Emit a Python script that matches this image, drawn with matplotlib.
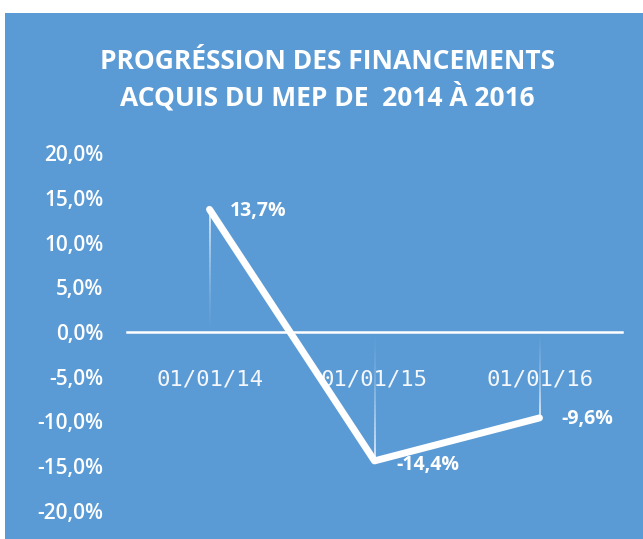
import matplotlib
matplotlib.use("Agg")
import matplotlib.pyplot as plt
import numpy as np
from matplotlib.patches import Rectangle
from matplotlib.ticker import FuncFormatter

dates = ["01/01/14", "01/01/15", "01/01/16"]
growth = [13.7, -14.4, -9.6]
point_labels = ["13,7%", "-14,4%", "-9,6%"]
yticks = [-20, -15, -10, -5, 0, 5, 10, 15, 20]

BLUE = "#5B9BD5"
W = 643 / 100
H = 539 / 100

fig = plt.figure(figsize=(W, H), dpi=100, facecolor="white")
fig.patches.append(Rectangle((5 / 643, 0), 1, 1 - 13 / 539, transform=fig.transFigure,
                             facecolor=BLUE, edgecolor="none", zorder=-10))

ax = fig.add_axes([127 / 643, (539 - 511) / 539, (622 - 127) / 643, (511 - 153) / 539])
ax.set_facecolor("none")

x = np.arange(len(dates))
ax.set_xlim(-0.5, len(dates) - 0.5)
ax.set_ylim(-20, 20)

# drop lines, fading towards the far end
for xi, yi in zip(x, growth):
    n = 30
    ys = np.linspace(yi, 0, n + 1)
    for k in range(n):
        a = 0.9 * (1 - k / n) ** 1.5
        ax.plot([xi, xi], [ys[k], ys[k + 1]], color="white", lw=1.2, alpha=a,
                solid_capstyle="butt", zorder=2)

ax.plot(x, growth, color="white", lw=5, solid_capstyle="round",
        solid_joinstyle="round", zorder=4)

offsets = [(15, -1), (16, -3), (16, -1)]
for xi, yi, lab, off in zip(x, growth, point_labels, offsets):
    ax.annotate(lab, (xi, yi), xytext=off, textcoords="offset points",
                color="white", fontsize=14, fontweight="bold", family="Open Sans",
                ha="left", va="center", zorder=5)

for s in ["top", "right", "left"]:
    ax.spines[s].set_visible(False)
ax.spines["bottom"].set_position(("data", 0))
ax.spines["bottom"].set_color("white")
ax.spines["bottom"].set_linewidth(1.8)

ax.set_xticks(x)
ax.set_xticklabels(dates, family="DejaVu Sans Mono", fontsize=16, color="#f4f7fb")
ax.tick_params(axis="x", length=0, pad=27)
ax.set_yticks(yticks)
ax.yaxis.set_major_formatter(FuncFormatter(lambda v, p: f"{v:.1f}%".replace(".", ",")))
ax.tick_params(axis="y", length=0, pad=17, labelcolor="white", labelsize=15)
for t in ax.get_yticklabels():
    t.set_family("Open Sans")
    t.set_fontweight("semibold")

fig.text(327 / 643, 1 - 80 / 539, "PROGRÉSSION DES FINANCEMENTS\nACQUIS DU MEP DE  2014 À 2016",
         ha="center", va="center", color="white", fontsize=19, fontweight="bold",
         family="Open Sans", linespacing=1.3)

fig.savefig("out.png", dpi=100, facecolor="white")
